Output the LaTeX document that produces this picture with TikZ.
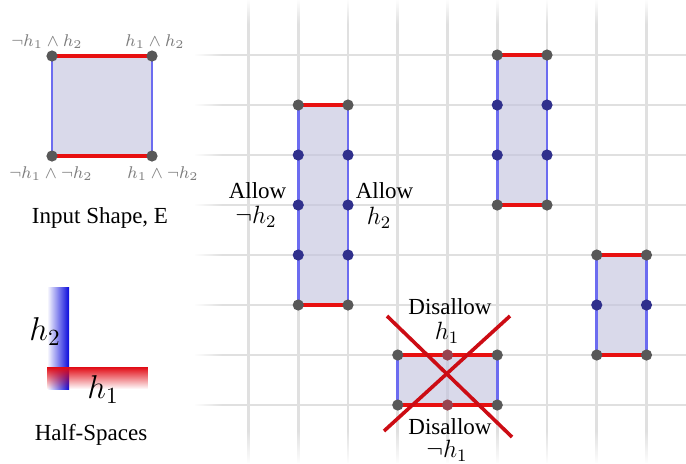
\RequirePackage{fix-cm}
\documentclass[tikz,border=0pt]{standalone}
\usepackage[no-math]{fontspec}
\setmainfont{Liberation Serif}
\usetikzlibrary{fadings}
\definecolor{gridc}{RGB}{224,224,224}
\definecolor{shapefillc}{RGB}{196,196,222}
\definecolor{edgered}{RGB}{232,16,16}
\definecolor{edgeblue}{RGB}{108,108,240}
\definecolor{dotgray}{RGB}{88,88,88}
\definecolor{dotnavy}{RGB}{48,48,140}
\definecolor{dotred}{RGB}{150,68,80}
\definecolor{crossred}{RGB}{204,12,20}
\definecolor{labelgray}{RGB}{125,125,125}
\definecolor{hblue}{RGB}{10,10,220}
\definecolor{hred}{RGB}{225,10,20}
\tikzfading[name=fadedown, top color=transparent!0, bottom color=transparent!100]
\tikzfading[name=fadeup, bottom color=transparent!0, top color=transparent!100]
\tikzfading[name=faderight, left color=transparent!0, right color=transparent!100]
\tikzfading[name=redfade, top color=transparent!0, middle color=transparent!35, bottom color=transparent!100]
\tikzset{
  gridline/.style={draw=gridc, line width=1.4pt},
  shapefill/.style={fill=shapefillc, fill opacity=0.65},
  hedge/.style={draw=edgered, line width=1.6pt},
  vedge/.style={draw=edgeblue, line width=1.3pt},
  gdot/.style={fill=dotgray},
  ndot/.style={fill=dotnavy},
  rdot/.style={fill=dotred},
  crossline/.style={draw=crossred, line width=1.8pt},
  cornerlabel/.style={text=labelgray, inner sep=0pt, font=\fontsize{8.5}{10}\selectfont},
  txt/.style={inner sep=0pt, font=\fontsize{11.5}{13}\selectfont},
  mathlbl/.style={inner sep=0pt, font=\fontsize{12.5}{15}\selectfont},
  biglbl/.style={inner sep=0pt, font=\fontsize{16.5}{19}\selectfont},
}
\begin{document}
\begin{tikzpicture}[x=0.5pt, y=-0.5pt]
\useasboundingbox (0,0) rectangle (686,463);
% grid
\foreach \k in {0,...,8} {
  \draw[gridline] ({248.5+49.75*\k},0) -- ({248.5+49.75*\k},463);
}
\foreach \k in {0,...,7} {
  \draw[gridline] (195,{55+50*\k}) -- (686,{55+50*\k});
}
% edge fades of the grid
\fill[white, path fading=faderight] (194,0) rectangle (222,463);
\fill[white, path fading=fadedown] (222,-1) rectangle (687,24);
\fill[white, path fading=fadeup] (222,430) rectangle (687,464);

% input shape
\fill[shapefill] (52,56) rectangle (152,156);
\draw[vedge] (52,56) -- (52,156);
\draw[vedge] (152,56) -- (152,156);
\draw[hedge] (52,56) -- (152,56);
\draw[hedge] (52,156) -- (152,156);
\foreach \p in {(52,56),(152,56),(52,156),(152,156)} \fill[gdot] \p circle (2.8pt);
\node[cornerlabel] (lnn) at (47,42) {$\neg h_1\wedge h_2$};
\node[cornerlabel] (lpn) at (155,42) {$h_1\wedge h_2$};
\node[cornerlabel] (lnm) at (51,174) {$\neg h_1\wedge\neg h_2$};
\node[cornerlabel] (lpm) at (163,174) {$h_1\wedge\neg h_2$};
\node[txt] (inputlbl) at (100,218) {Input Shape, E};

% half-spaces
\shade[left color=white, right color=hblue] (47,287) rectangle (69,389);
\fill[hred, path fading=redfade] (47,367) rectangle (148,389);
\node[biglbl] (hsh2) at (45,332) {$h_2$};
\node[biglbl] (hsh1) at (103,390) {$h_1$};
\node[txt] (hslbl) at (91,435) {Half-Spaces};

% rectangle 1
\fill[shapefill] (298.25,105) rectangle (348,305);
\draw[vedge] (298.25,105) -- (298.25,305);
\draw[vedge] (348,105) -- (348,305);
\draw[hedge] (298.25,105) -- (348,105);
\draw[hedge] (298.25,305) -- (348,305);
\foreach \y in {105,305} {\fill[gdot] (298.25,\y) circle (2.8pt); \fill[gdot] (348,\y) circle (2.8pt);}
\foreach \y in {155,205,255} {\fill[ndot] (298.25,\y) circle (2.8pt); \fill[ndot] (348,\y) circle (2.8pt);}

% rectangle 2
\fill[shapefill] (497.25,55) rectangle (547,205);
\draw[vedge] (497.25,55) -- (497.25,205);
\draw[vedge] (547,55) -- (547,205);
\draw[hedge] (497.25,55) -- (547,55);
\draw[hedge] (497.25,205) -- (547,205);
\foreach \y in {55,205} {\fill[gdot] (497.25,\y) circle (2.8pt); \fill[gdot] (547,\y) circle (2.8pt);}
\foreach \y in {105,155} {\fill[ndot] (497.25,\y) circle (2.8pt); \fill[ndot] (547,\y) circle (2.8pt);}

% rectangle 3
\fill[shapefill] (596.75,255) rectangle (646.5,355);
\draw[vedge] (596.75,255) -- (596.75,355);
\draw[vedge] (646.5,255) -- (646.5,355);
\draw[hedge] (596.75,255) -- (646.5,255);
\draw[hedge] (596.75,355) -- (646.5,355);
\foreach \y in {255,355} {\fill[gdot] (596.75,\y) circle (2.8pt); \fill[gdot] (646.5,\y) circle (2.8pt);}
\fill[ndot] (596.75,305) circle (2.8pt); \fill[ndot] (646.5,305) circle (2.8pt);

% rectangle 4 (disallowed)
\fill[shapefill] (397.75,355) rectangle (497.25,405);
\draw[vedge] (397.75,355) -- (397.75,405);
\draw[vedge] (497.25,355) -- (497.25,405);
\draw[hedge] (397.75,355) -- (497.25,355);
\draw[hedge] (397.75,405) -- (497.25,405);
\foreach \y in {355,405} {\fill[gdot] (397.75,\y) circle (2.8pt); \fill[gdot] (497.25,\y) circle (2.8pt); \fill[rdot] (447.5,\y) circle (2.8pt);}
\coordinate (ca1) at (387,316);
\coordinate (ca2) at (512,437);
\coordinate (cb1) at (510,316);
\coordinate (cb2) at (384,431);
\draw[crossline] (ca1) -- (ca2);
\draw[crossline] (cb1) -- (cb2);

% labels
\node[txt] (al1) at (257.5,191) {Allow};
\node[mathlbl] (al1m) at (256,217) {$\neg h_2$};
\node[txt] (al2) at (384.5,191) {Allow};
\node[mathlbl] (al2m) at (379,218) {$h_2$};
\node[txt] (ds1) at (450,307) {Disallow};
\node[mathlbl] (ds1m) at (447,333) {$h_1$};
\node[txt] (ds2) at (450,427) {Disallow};
\node[mathlbl] (ds2m) at (447,451) {$\neg h_1$};
\end{tikzpicture}
\end{document}
